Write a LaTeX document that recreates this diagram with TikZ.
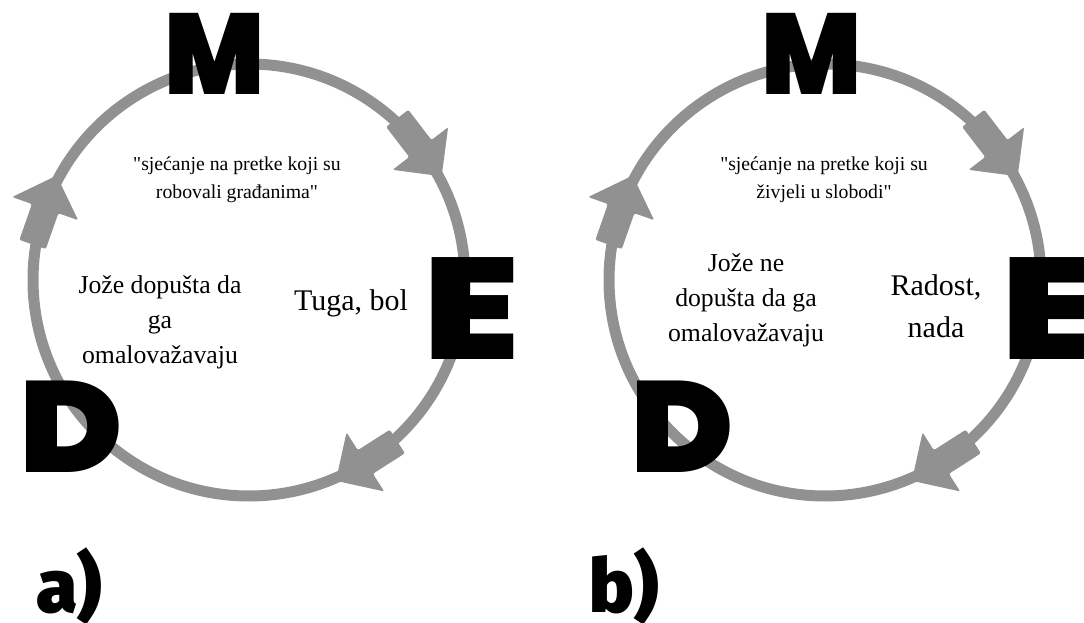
\documentclass[tikz,border=0pt]{standalone}
\usepackage{fontspec}
\setmainfont{Liberation Serif}[Ligatures=TeXOff]
\IfFontExistsTF{Poppins Black}
  {\newfontfamily\letterfont{Poppins Black}}
  {\newfontfamily\letterfont{Poppins}[FakeBold=4]}
\IfFontExistsTF{Fira Sans Black}
  {\newfontfamily\labelfont{Fira Sans Black}}
  {\newfontfamily\labelfont{Fira Sans}[FakeBold=4]}
\definecolor{cyclegray}{RGB}{145,145,145}

\tikzset{every picture/.style={line width=0.75pt}}
\tikzset{
  cycarrow/.pic={
    \fill[cyclegray,rounded corners=1.5pt] (-38,-14) -- (0,-14) -- (0,-35) -- (35,0) -- (0,35) -- (0,14) -- (-38,14) -- cycle ;
  },
  cycring/.style={draw=cyclegray,line width=8.25pt},
  bigletter/.style={inner sep=0pt,font=\letterfont\fontsize{#1}{#1}\selectfont},
  quotetext/.style={align=center,font=\fontsize{14.8}{21}\selectfont},
  stepstext/.style={align=center,font=\fontsize{19.3}{26.3}\selectfont},
  feeltext/.style={align=center,font=\fontsize{22.5}{31.5}\selectfont},
  paneltag/.style={inner sep=0pt,anchor=base west,font=\labelfont\fontsize{56}{56}\selectfont}
}

\begin{document}
\begin{tikzpicture}[x=0.75pt,y=0.75pt,yscale=-1,xscale=1]
\useasboundingbox (0,0) rectangle (1084,623);

\coordinate (cL) at (249,280);
\coordinate (cR) at (825,280);

%Shape: Circle a)
\draw[cycring] (cL) circle (216) ;
\path (cL) ++(-37.5:216) pic[rotate=-52.5] {cycarrow} ;
\path (cL) ++(57.4:216) pic[rotate=-147.4] {cycarrow} ;
\path (cL) ++(199.3:216) pic[rotate=-289.3] {cycarrow} ;
%Shape: Circle b)
\draw[cycring] (cR) circle (216) ;
\path (cR) ++(-37.5:216) pic[rotate=-52.5] {cycarrow} ;
\path (cR) ++(57.4:216) pic[rotate=-147.4] {cycarrow} ;
\path (cR) ++(199.3:216) pic[rotate=-289.3] {cycarrow} ;

% Letters a)
\node[bigletter=86] (mL) at (215,54) {\scalebox{0.92}[1]{M}};
\node[bigletter=108] (eL) at (471.5,309) {\scalebox{1.2}[1]{E}};
\node[bigletter=97] (dL) at (71.5,427) {\scalebox{1.08}[1]{D}};
% Letters b)
\node[bigletter=86] (mR) at (811.5,54) {\scalebox{0.92}[1]{M}};
\node[bigletter=108] (eR) at (1049.5,308.5) {\scalebox{1.2}[1]{E}};
\node[bigletter=97] (dR) at (682.5,427) {\scalebox{1.08}[1]{D}};

% Text Node
\node[quotetext] (qL) at (237,180) {"sjećanje na pretke koji su\\robovali građanima"};
% Text Node
\node[stepstext] (jL) at (160,322) {Jože dopušta da\\ga\\omalovažavaju};
% Text Node
\node[feeltext] (fL) at (351,303) {Tuga, bol};
% Text Node
\node[quotetext] (qR) at (824,180) {"sjećanje na pretke koji su\\živjeli u slobodi"};
% Text Node
\node[stepstext] (jR) at (746,300) {Jože ne\\dopušta da ga\\omalovažavaju};
% Text Node
\node[feeltext] (fR) at (936,306) {Radost,\\nada};

% Panel labels
\node[paneltag] (tA) at (36,612) {a)};
\node[paneltag] (tB) at (589,612) {b)};
\end{tikzpicture}
\end{document}
